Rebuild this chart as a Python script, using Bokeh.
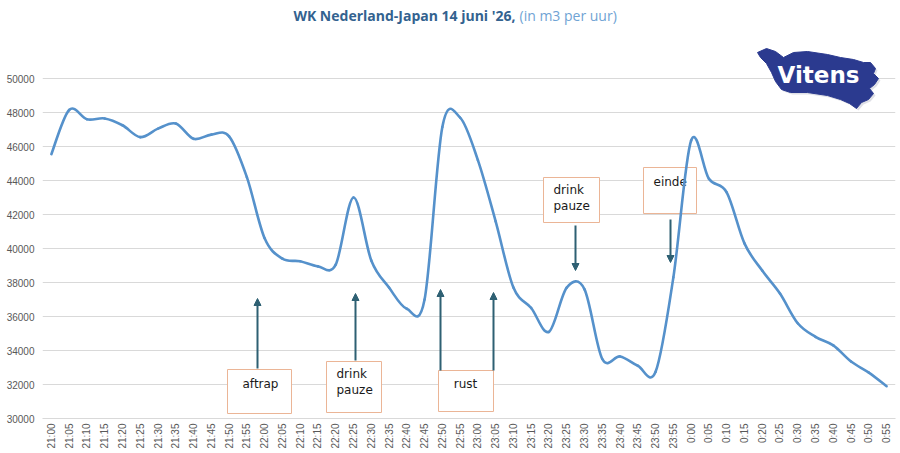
from bokeh.plotting import figure
from bokeh.models import Range1d, FixedTicker, BasicTickFormatter, Arrow, NormalHead
from bokeh.core.properties import value
from bokeh.embed import file_html
from bokeh.resources import INLINE

# ---------------- data ----------------
times = ["21:00", "21:05", "21:10", "21:15", "21:20", "21:25", "21:30", "21:35", "21:40", "21:45",
         "21:50", "21:55", "22:00", "22:05", "22:10", "22:15", "22:20", "22:25", "22:30", "22:35",
         "22:40", "22:45", "22:50", "22:55", "23:00", "23:05", "23:10", "23:15", "23:20", "23:25",
         "23:30", "23:35", "23:40", "23:45", "23:50", "23:55", "0:00", "0:05", "0:10", "0:15",
         "0:20", "0:25", "0:30", "0:35", "0:40", "0:45", "0:50", "0:55"]
flow = [45550, 48150, 47600, 47650, 47250, 46550, 47050, 47350, 46450, 46700,
        46600, 44200, 40600, 39400, 39250, 38950, 39050, 43000, 39300, 37700,
        36450, 37000, 47150, 47700, 45200, 41600, 37700, 36500, 35100, 37700,
        37600, 33500, 33650, 33100, 32750, 38300, 46350, 44100, 43300, 40300,
        38700, 37350, 35600, 34800, 34300, 33350, 32700, 31900]
y_ticks = [30000, 32000, 34000, 36000, 38000, 40000, 42000, 44000, 46000, 48000, 50000]
notes_text = ["aftrap", "drink\npauze", "rust", "drink\npauze", "einde"]
title_main = "WK Nederland-Japan 14 juni '26,"
title_unit = "(in m3 per uur)"
logo_text = "Vitens"

# ---------------- layout ----------------
W, H = 900, 453
L, R, T, B = 42, 5, 0, 35
FW, FH = W - L - R, H - T - B
Y0 = 30000
PX_PER_VAL = 340 / 20000.0
YTOP = Y0 + FH / PX_PER_VAL
n = len(flow)

def dx(px):
    return (px - L) / FW * n - 0.5

def dy(py):
    return Y0 + (T + FH - py) / PX_PER_VAL

p = figure(width=W, height=H, output_backend="svg", toolbar_location=None,
           x_range=Range1d(-0.5, n - 0.5), y_range=Range1d(Y0, YTOP),
           min_border_left=L, min_border_right=R, min_border_top=T, min_border_bottom=B,
           background_fill_color="white", border_fill_color="white")
p.outline_line_color = None

xs = list(range(n))

# axes
p.xaxis.ticker = FixedTicker(ticks=xs)
p.xaxis.major_label_overrides = {i: t for i, t in enumerate(times)}
p.xaxis.major_label_orientation = 3.14159265 / 2
p.xaxis.major_label_text_font = "Liberation Sans"
p.xaxis.major_label_text_font_size = "10px"
p.xaxis.major_label_text_color = "#595959"
p.xaxis.major_label_standoff = 5
p.xaxis.axis_line_color = "#d9d9d9"
p.xaxis.major_tick_line_color = None
p.xaxis.minor_tick_line_color = None
p.xaxis.major_tick_out = 0
p.xaxis.major_tick_in = 0
p.xaxis.minor_tick_out = 0

p.yaxis.ticker = FixedTicker(ticks=y_ticks)
p.yaxis.formatter = BasicTickFormatter(use_scientific=False)
p.yaxis.major_label_text_font = "Liberation Sans"
p.yaxis.major_label_text_font_size = "10px"
p.yaxis.major_label_text_color = "#595959"
p.yaxis.major_label_standoff = 8
p.yaxis.axis_line_color = None
p.yaxis.major_tick_line_color = None
p.yaxis.minor_tick_line_color = None
p.yaxis.major_tick_out = 0
p.yaxis.major_tick_in = 0
p.yaxis.minor_tick_out = 0

p.xgrid.grid_line_color = None
p.ygrid.ticker = FixedTicker(ticks=y_ticks)
p.ygrid.grid_line_color = "#d9d9d9"
p.ygrid.grid_line_width = 1

# ---------------- annotation boxes (under the line) ----------------
box_color = "#EBB596"
boxes_px = [(227, 291, 369, 413), (326, 381, 361, 412), (438, 493, 370, 411),
            (543, 599, 177, 222), (643, 696, 167, 213)]
p.quad(left=[dx(b[0]) for b in boxes_px], right=[dx(b[1]) for b in boxes_px],
       top=[dy(b[2]) for b in boxes_px], bottom=[dy(b[3]) for b in boxes_px],
       fill_color="white", line_color=box_color, line_width=1)

txt_font = value("DejaVu Sans")
p.text(x=[dx(260), dx(465)], y=[dy(383), dy(383)], text=[notes_text[0], notes_text[2]],
       text_font=txt_font, text_font_size="12px", text_color="#1a1a1a",
       text_align="center", text_baseline="middle")
p.text(x=[dx(336), dx(553), dx(653)], y=[dy(366), dy(182), dy(174)],
       text=[notes_text[1], notes_text[3], notes_text[4]],
       text_font=txt_font, text_font_size="12px", text_color="#1a1a1a",
       text_align="left", text_baseline="top", text_line_height=1.2)

# ---------------- logo ----------------
blob = [(757, 52), (766, 48), (775, 51), (783, 57), (793, 52), (807, 51), (827, 54), (840, 57),
        (853, 59), (863, 62), (870, 62), (875, 68), (873, 73), (878, 78), (874, 84), (869, 88),
        (873, 93), (868, 99), (861, 102), (856, 108), (849, 103), (840, 99), (827, 95),
        (807, 92), (790, 92), (781, 89), (775, 81), (771, 72), (766, 63), (760, 57)]
p.patch([dx(q[0] + 2) for q in blob], [dy(q[1] + 2) for q in blob],
        fill_color="#c9cbd6", line_color=None, fill_alpha=0.6)
p.patch([dx(q[0]) for q in blob], [dy(q[1]) for q in blob],
        fill_color="#2B3A8F", line_color="#2B3A8F", line_width=1)
p.text(x=[dx(818)], y=[dy(74)], text=[logo_text], text_font=value("DejaVu Sans"),
       text_font_style="bold", text_font_size="23px", text_color="white",
       text_align="center", text_baseline="middle")

# ---------------- smooth line via bezier ----------------
def tangent(i):
    im, ip = max(i - 1, 0), min(i + 1, n - 1)
    return (ip - im), (flow[ip] - flow[im])

x0, y0, x1, y1, cx0, cy0, cx1, cy1 = [], [], [], [], [], [], [], []
for i in range(n - 1):
    dxa, dya = tangent(i)
    dxb, dyb = tangent(i + 1)
    x0.append(xs[i]); y0.append(flow[i])
    x1.append(xs[i + 1]); y1.append(flow[i + 1])
    cx0.append(xs[i] + dxa / 6.0); cy0.append(flow[i] + dya / 6.0)
    cx1.append(xs[i + 1] - dxb / 6.0); cy1.append(flow[i + 1] - dyb / 6.0)

p.bezier(x0=x0, y0=y0, x1=x1, y1=y1, cx0=cx0, cy0=cy0, cx1=cx1, cy1=cy1,
         line_color="#5591CB", line_width=2.6, line_cap="round")

# ---------------- arrows ----------------
ac = "#2E6073"
arrows_px = [(257, 368, 257, 298), (355, 360, 355, 293), (440, 370, 440, 289),
             (493, 370, 493, 292), (575, 225, 575, 270), (670, 219, 670, 262)]
for (ax0, ay0, ax1, ay1) in arrows_px:
    p.add_layout(Arrow(end=NormalHead(size=7, fill_color=ac, line_color=ac),
                       x_start=dx(ax0), y_start=dy(ay0), x_end=dx(ax1), y_end=dy(ay1),
                       line_color=ac, line_width=2))

# ---------------- title ----------------
p.text(x=[dx(515)], y=[dy(15)], text=[title_main],
       text_font=value("Open Sans"), text_font_style="bold", text_font_size="14px",
       text_color="#33628F", text_align="right", text_baseline="middle")
p.text(x=[dx(519)], y=[dy(15)], text=[title_unit],
       text_font=value("Open Sans"), text_font_size="14px",
       text_color="#6FA3D4", text_align="left", text_baseline="middle")

open("out.html", "w").write(file_html(p, INLINE))
